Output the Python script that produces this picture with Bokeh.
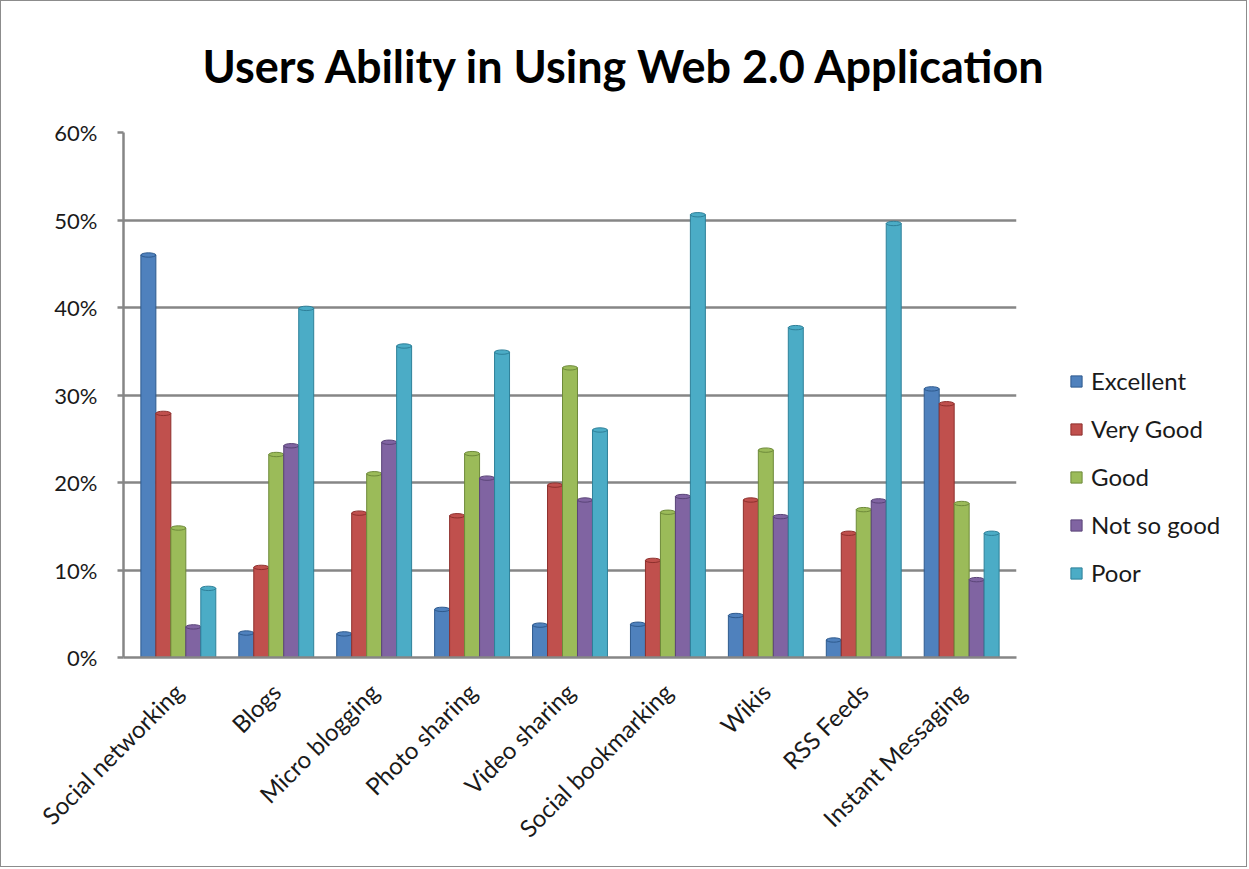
from bokeh.plotting import figure
from bokeh.layouts import row
from bokeh.models import (ColumnDataSource, FactorRange, NumeralTickFormatter,
                          Legend, LegendItem, FixedTicker)
from bokeh.transform import dodge
from bokeh.embed import file_html
from bokeh.resources import INLINE
import math

categories = ["Social networking", "Blogs", "Micro blogging", "Photo sharing",
              "Video sharing", "Social bookmarking", "Wikis", "RSS Feeds",
              "Instant Messaging"]
series_names = ["Excellent", "Very Good", "Good", "Not so good", "Poor"]
excellent = [0.460, 0.028, 0.027, 0.055, 0.037, 0.038, 0.048, 0.020, 0.307]
very_good = [0.279, 0.103, 0.165, 0.162, 0.197, 0.111, 0.180, 0.142, 0.290]
good = [0.148, 0.232, 0.210, 0.233, 0.331, 0.166, 0.237, 0.169, 0.176]
not_so_good = [0.035, 0.242, 0.246, 0.205, 0.180, 0.184, 0.161, 0.179, 0.089]
poor = [0.079, 0.399, 0.356, 0.349, 0.260, 0.506, 0.377, 0.496, 0.142]
y_ticks = [0.0, 0.1, 0.2, 0.3, 0.4, 0.5, 0.6]

colors = ["#4F81BD", "#C0504D", "#9BBB59", "#8064A2", "#4BACC6"]
edges = ["#2E5A8E", "#8E302D", "#6E8A3A", "#5A4478", "#2E8099"]

src = ColumnDataSource(dict(cat=categories, s0=excellent, s1=very_good,
                            s2=good, s3=not_so_good, s4=poor))

FONT = "Lato"
BORDER = "1px solid #8c8c8c"

p = figure(x_range=FactorRange(*categories, range_padding=0.06,
                               range_padding_units="absolute"),
           y_range=(0, 0.6), width=1050, height=867,
           output_backend="svg", toolbar_location=None,
           min_border_left=122, min_border_right=35,
           min_border_top=129, min_border_bottom=211)
p.styles = {"border-left": BORDER, "border-top": BORDER,
            "border-bottom": BORDER}

bw = 0.153
offs = [-2 * bw, -bw, 0, bw, 2 * bw]
for i, name in enumerate(series_names):
    p.vbar(x=dodge("cat", offs[i], range=p.x_range), top="s%d" % i,
           width=bw, source=src, fill_color=colors[i],
           line_color=edges[i], line_width=1)
    p.ellipse(x=dodge("cat", offs[i], range=p.x_range), y="s%d" % i,
              width=bw, height=0.005, source=src, fill_color=colors[i],
              line_color=edges[i], line_width=1)

# Title
p.title.text = "Users Ability in Using Web 2.0 Application"
p.title.text_font = FONT
p.title.text_font_size = "45px"
p.title.text_font_style = "bold"
p.title.text_color = "#000000"
p.title.align = "left"
p.title.vertical_align = "top"
p.title.offset = 79
p.title.standoff = 75

# Axes
p.yaxis.ticker = FixedTicker(ticks=y_ticks)
p.yaxis.formatter = NumeralTickFormatter(format="0%")
p.yaxis.major_label_text_font = FONT
p.yaxis.major_label_text_font_size = "22px"
p.yaxis.major_label_text_color = "#1a1a1a"
p.yaxis.major_tick_out = 6
p.yaxis.major_tick_in = 0
p.yaxis.minor_tick_out = 0
p.yaxis.minor_tick_in = 0
p.yaxis.major_label_standoff = 20
p.yaxis.axis_line_color = "#868686"
p.yaxis.axis_line_width = 2.5
p.yaxis.major_tick_line_color = "#868686"
p.yaxis.major_tick_line_width = 2.5

p.xaxis.major_label_orientation = math.pi / 4
p.xaxis.major_label_text_font = FONT
p.xaxis.major_label_text_font_size = "24px"
p.xaxis.major_label_text_color = "#1a1a1a"
p.xaxis.major_tick_out = 0
p.xaxis.major_tick_in = 0
p.xaxis.major_label_standoff = 30
p.xaxis.axis_line_color = "#868686"
p.xaxis.axis_line_width = 2.5

p.xgrid.grid_line_color = None
p.ygrid.grid_line_color = "#868686"
p.ygrid.grid_line_width = 2.5
p.outline_line_color = None
p.background_fill_color = "white"
p.border_fill_color = "white"

# Legend panel: separate figure to the right; its key renderers hold no
# drawable values (NaN), they only supply the legend swatches.
lp = figure(x_range=FactorRange(*categories), y_range=(0, 0.6),
            width=197, height=867, output_backend="svg",
            toolbar_location=None, min_border=0)
lp.styles = {"border-right": BORDER, "border-top": BORDER,
             "border-bottom": BORDER}
lp.axis.visible = False
lp.grid.visible = False
lp.outline_line_color = None
lp.background_fill_color = "white"
lp.border_fill_color = "white"

key_src = ColumnDataSource(dict(cat=categories,
                                v=[float("nan")] * len(categories)))
items = []
for i, name in enumerate(series_names):
    r = lp.vbar(x="cat", top="v", width=bw, source=key_src,
                fill_color=colors[i], line_color=edges[i], line_width=1)
    items.append(LegendItem(label=name, renderers=[r]))

legend = Legend(items=items, location=(19, 70), orientation="vertical",
                label_text_font=FONT, label_text_font_size="24px",
                label_text_color="#1a1a1a", glyph_width=14, glyph_height=14,
                label_height=24, spacing=19, padding=0, margin=0,
                label_standoff=8, border_line_color=None,
                background_fill_alpha=0)
lp.add_layout(legend, "center")

layout = row(p, lp)
open("out.html", "w").write(file_html(layout, INLINE))
